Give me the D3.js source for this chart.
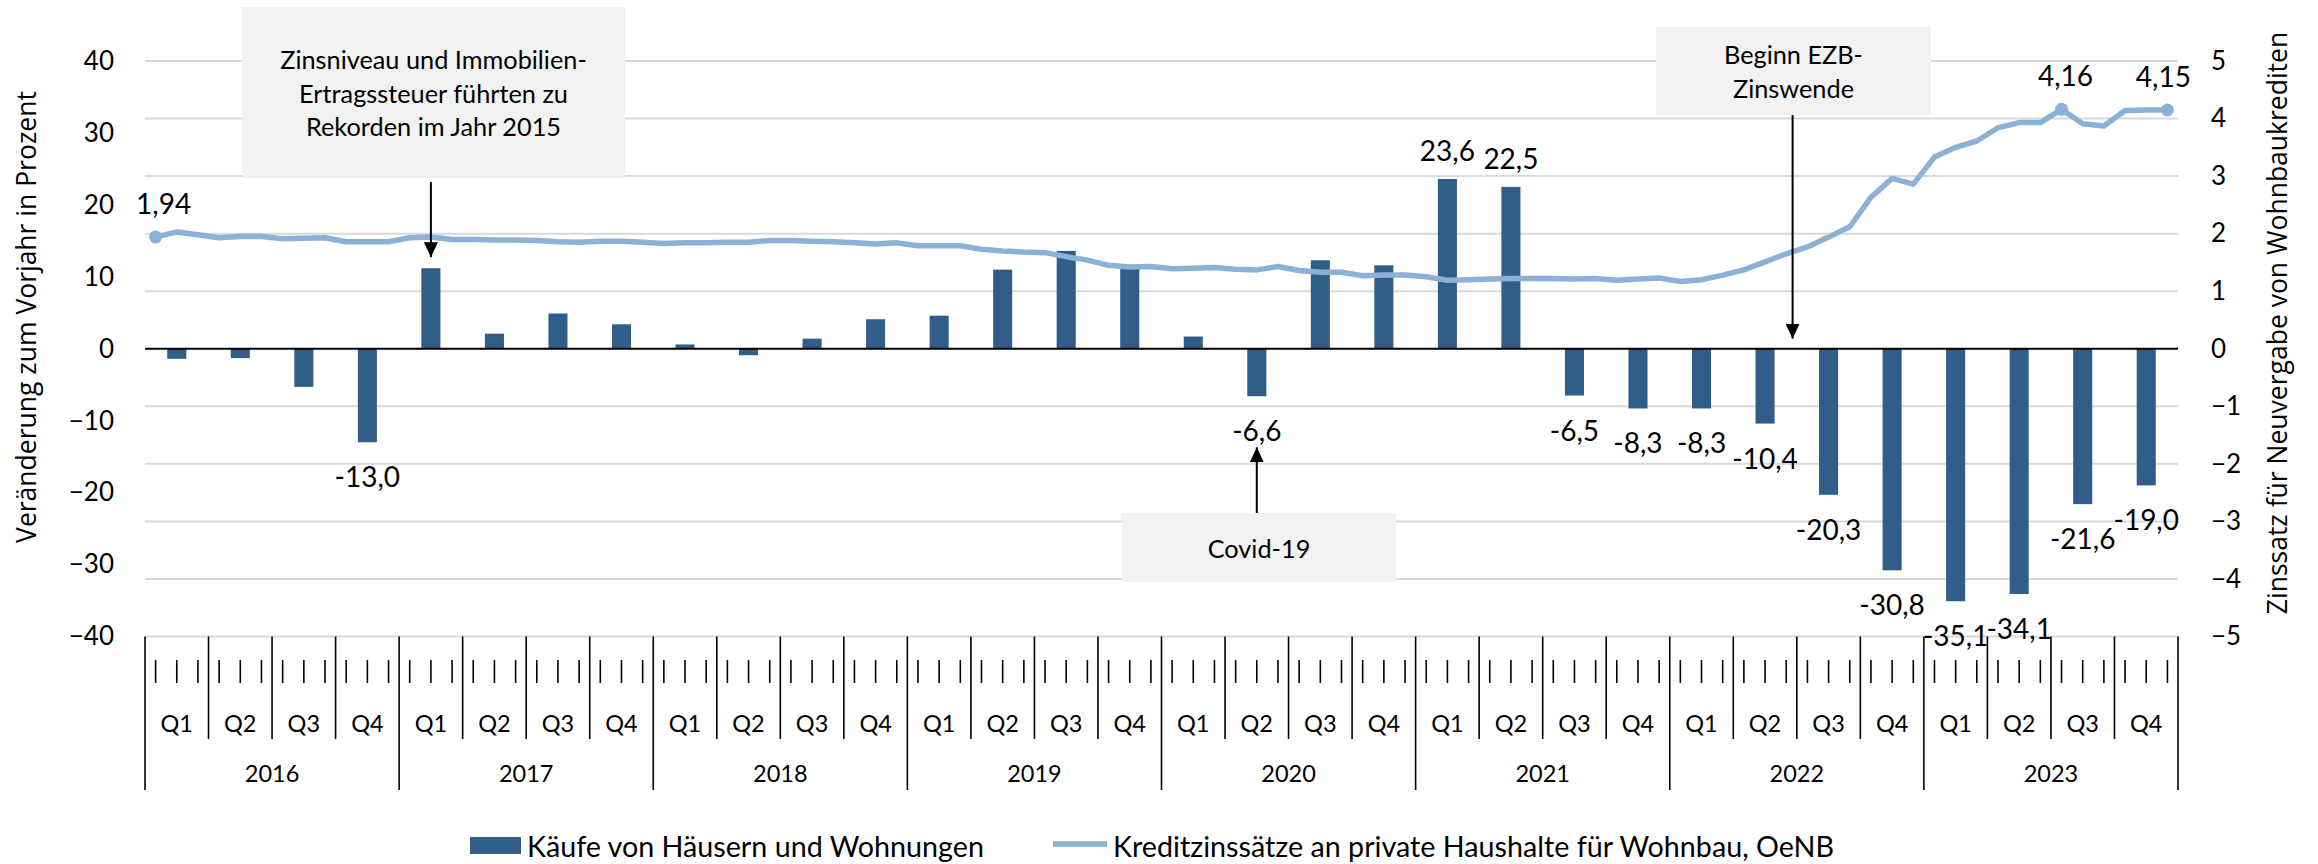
<!DOCTYPE html>
<html lang="de">
<head>
<meta charset="utf-8">
<title>Immobilienkäufe und Wohnbauzinsen</title>
<script src="https://cdn.jsdelivr.net/npm/d3@7"></script>
<style>
  body { margin: 0; background: #fff; }
  svg { display: block; }
</style>
</head>
<body>
<div id="chart"></div>
<script>
// Kategorien
const years = ["2016", "2017", "2018", "2019", "2020", "2021", "2022", "2023"];
const quarterNames = ["Q1", "Q2", "Q3", "Q4"];

// Käufe von Häusern und Wohnungen, Veränderung zum Vorjahr in % (quartalsweise)
const purchases = [
  -1.4, -1.3, -5.3, -13.0,
  11.2, 2.1, 4.9, 3.4,
  0.6, -0.9, 1.4, 4.1,
  4.6, 11.0, 13.6, 11.3,
  1.7, -6.6, 12.3, 11.6,
  23.6, 22.5, -6.5, -8.3,
  -8.3, -10.4, -20.3, -30.8,
  -35.1, -34.1, -21.6, -19.0
];
// Quartale (Index) mit Datenbeschriftung
const labelledBars = [3, 17, 20, 21, 22, 23, 24, 25, 26, 27, 28, 29, 30, 31];

// Kreditzinssätze Wohnbau, OeNB (monatlich, in %)
const rates = [
  1.94, 2.03, 1.98, 1.93, 1.95, 1.95, 1.91, 1.92, 1.93, 1.86, 1.86, 1.86,
  1.93, 1.94, 1.90, 1.90, 1.89, 1.89, 1.88, 1.86, 1.85, 1.87, 1.87, 1.85,
  1.83, 1.84, 1.84, 1.85, 1.85, 1.88, 1.88, 1.87, 1.86, 1.84, 1.82, 1.84,
  1.79, 1.79, 1.79, 1.73, 1.70, 1.68, 1.67, 1.60, 1.54, 1.45, 1.42, 1.43,
  1.39, 1.40, 1.41, 1.38, 1.37, 1.43, 1.36, 1.33, 1.33, 1.27, 1.28, 1.28,
  1.25, 1.19, 1.20, 1.21, 1.22, 1.22, 1.22, 1.21, 1.22, 1.19, 1.21, 1.23,
  1.17, 1.20, 1.28, 1.37, 1.51, 1.65, 1.77, 1.94, 2.12, 2.63, 2.96, 2.86,
  3.33, 3.50, 3.61, 3.84, 3.93, 3.93, 4.16, 3.91, 3.87, 4.14, 4.15, 4.15
];
// Monate (Index) mit Markierung und Beschriftung
const labelledRates = [0, 90, 95];

const leftTicks = [-40, -30, -20, -10, 0, 10, 20, 30, 40];
const rightTicks = [-5, -4, -3, -2, -1, 0, 1, 2, 3, 4, 5];

const leftTitle = "Veränderung zum Vorjahr in Prozent";
const rightTitle = "Zinssatz für Neuvergabe von Wohnbaukrediten";
const legendBars = "Käufe von Häusern und Wohnungen";
const legendLine = "Kreditzinssätze an private Haushalte für Wohnbau, OeNB";

const noteRecord = ["Zinsniveau und Immobilien-", "Ertragssteuer führten zu", "Rekorden im Jahr 2015"];
const noteEcb = ["Beginn EZB-", "Zinswende"];
const noteCovid = ["Covid-19"];

// ---------------------------------------------------------------
const width = 2318;
const height = 864;
const plot = { left: 145, right: 2178, top: 61, bottom: 636.5 };

const barColor = "#305e89";
const lineColor = "#8cb1d7";
const gridColor = "#d9d9d9";
const boxColor = "#f2f2f2";
const font = "Lato, 'Noto Sans', sans-serif";
const titleFont = "'Open Sans', 'Noto Sans', sans-serif";

const de = d3.formatLocale({ decimal: ",", thousands: ".", grouping: [3], currency: ["", " €"], minus: "-" });
const fmt1 = de.format(".1f");
const fmt2 = de.format(".2f");

const quarters = years.flatMap(y => quarterNames.map(q => `${y}-${q}`));
const months = d3.range(rates.length);

const x = d3.scaleBand()
  .domain(quarters)
  .range([plot.left, plot.right])
  .paddingInner(0.7)
  .paddingOuter(0.35);

const xm = d3.scaleBand()
  .domain(months)
  .range([plot.left, plot.right]);

const yL = d3.scaleLinear().domain([-40, 40]).range([plot.bottom, plot.top]);
const yR = d3.scaleLinear().domain([-5, 5]).range([plot.bottom, plot.top]);

const qCenter = i => x(quarters[i]) + x.bandwidth() / 2;
const mCenter = i => xm(i) + xm.bandwidth() / 2;

const svg = d3.select("#chart")
  .append("svg")
  .attr("width", width)
  .attr("height", height)
  .attr("viewBox", `0 0 ${width} ${height}`)
  .style("font-family", font);

svg.append("rect").attr("width", width).attr("height", height).attr("fill", "#fff");

// Gitterlinien (an der Sekundärachse)
svg.append("g")
  .selectAll("line")
  .data(rightTicks.filter(d => d !== 0))
  .join("line")
  .attr("x1", plot.left)
  .attr("x2", plot.right)
  .attr("y1", d => yR(d))
  .attr("y2", d => yR(d))
  .attr("stroke", gridColor)
  .attr("stroke-width", 2);

// Balken
svg.append("g")
  .selectAll("rect")
  .data(purchases)
  .join("rect")
  .attr("x", (d, i) => x(quarters[i]))
  .attr("width", x.bandwidth())
  .attr("y", d => yL(Math.max(0, d)))
  .attr("height", d => Math.abs(yL(d) - yL(0)))
  .attr("fill", barColor);

// Nulllinie
svg.append("line")
  .attr("x1", plot.left)
  .attr("x2", plot.right)
  .attr("y1", yL(0))
  .attr("y2", yL(0))
  .attr("stroke", "#000")
  .attr("stroke-width", 2);

// Zinslinie
const line = d3.line()
  .x((d, i) => mCenter(i))
  .y(d => yR(d));

svg.append("path")
  .datum(rates)
  .attr("d", line)
  .attr("fill", "none")
  .attr("stroke", lineColor)
  .attr("stroke-width", 5.5)
  .attr("stroke-linejoin", "round");

svg.append("g")
  .selectAll("circle")
  .data(labelledRates)
  .join("circle")
  .attr("cx", i => mCenter(i))
  .attr("cy", i => yR(rates[i]))
  .attr("r", 6.5)
  .attr("fill", lineColor);

svg.append("g")
  .selectAll("text")
  .data(labelledRates)
  .join("text")
  .attr("x", i => mCenter(i) + (i === 0 ? 8 : i === rates.length - 1 ? -4 : 4))
  .attr("y", i => yR(rates[i]) - 34)
  .attr("text-anchor", "middle")
  .attr("dominant-baseline", "central")
  .attr("font-size", 28)
  .attr("fill", "#000")
  .text(i => fmt2(rates[i]));

// Balkenbeschriftungen
svg.append("g")
  .selectAll("text")
  .data(labelledBars)
  .join("text")
  .attr("x", i => qCenter(i))
  .attr("y", i => purchases[i] >= 0 ? yL(purchases[i]) - 29 : yL(purchases[i]) + 34)
  .attr("text-anchor", "middle")
  .attr("dominant-baseline", "central")
  .attr("font-size", 28)
  .attr("fill", "#000")
  .text(i => fmt1(purchases[i]));

// Y-Achsen
svg.append("g")
  .attr("transform", `translate(${plot.left},0)`)
  .call(d3.axisLeft(yL).tickValues(leftTicks).tickSize(0).tickPadding(31))
  .call(g => g.select(".domain").remove())
  .attr("font-family", font)
  .attr("font-size", 26)
  .selectAll("text").attr("fill", "#000");

svg.append("g")
  .attr("transform", `translate(${plot.right},0)`)
  .call(d3.axisRight(yR).tickValues(rightTicks).tickSize(0).tickPadding(33))
  .call(g => g.select(".domain").remove())
  .attr("font-family", font)
  .attr("font-size", 26)
  .selectAll("text").attr("fill", "#000");

svg.append("text")
  .attr("transform", "translate(36,317) rotate(-90)")
  .attr("text-anchor", "middle")
  .attr("font-family", titleFont)
  .attr("font-size", 26.5)
  .attr("fill", "#000")
  .text(leftTitle);

svg.append("text")
  .attr("transform", "translate(2287,323) rotate(-90)")
  .attr("text-anchor", "middle")
  .attr("font-family", titleFont)
  .attr("font-size", 26.5)
  .attr("fill", "#000")
  .text(rightTitle);

// X-Achse: Monate, Quartale, Jahre
const axisX = svg.append("g").attr("stroke", "#000");

axisX.selectAll("line.month")
  .data(months)
  .join("line")
  .attr("class", "month")
  .attr("x1", i => mCenter(i))
  .attr("x2", i => mCenter(i))
  .attr("y1", 660)
  .attr("y2", 683)
  .attr("stroke-width", 1.6);

const qStep = x.step();
axisX.selectAll("line.sep")
  .data(d3.range(quarters.length + 1))
  .join("line")
  .attr("class", "sep")
  .attr("x1", k => plot.left + k * qStep)
  .attr("x2", k => plot.left + k * qStep)
  .attr("y1", plot.bottom)
  .attr("y2", k => k % 4 === 0 ? 790 : 739)
  .attr("stroke-width", 1.6);

svg.append("g")
  .selectAll("text")
  .data(quarters)
  .join("text")
  .attr("x", (d, i) => qCenter(i))
  .attr("y", 723)
  .attr("text-anchor", "middle")
  .attr("dominant-baseline", "central")
  .attr("font-size", 23.5)
  .attr("fill", "#000")
  .text(d => d.split("-")[1]);

svg.append("g")
  .selectAll("text")
  .data(years)
  .join("text")
  .attr("x", (d, i) => plot.left + (i * 4 + 2) * qStep)
  .attr("y", 773)
  .attr("text-anchor", "middle")
  .attr("dominant-baseline", "central")
  .attr("font-size", 23.5)
  .attr("fill", "#000")
  .text(d => d);

// Legende
const legend = svg.append("g").attr("font-size", 28.7).attr("fill", "#000");
legend.append("rect")
  .attr("x", 470).attr("y", 837).attr("width", 51).attr("height", 17)
  .attr("fill", barColor);
legend.append("text")
  .attr("x", 527).attr("y", 846)
  .attr("dominant-baseline", "central")
  .text(legendBars);
legend.append("line")
  .attr("x1", 1053).attr("x2", 1107).attr("y1", 844).attr("y2", 844)
  .attr("stroke", lineColor).attr("stroke-width", 5.5);
legend.append("text")
  .attr("x", 1113).attr("y", 846)
  .attr("dominant-baseline", "central")
  .text(legendLine);

// Anmerkungen mit Pfeilen
const defs = svg.append("defs");
defs.append("marker")
  .attr("id", "arrow")
  .attr("markerUnits", "userSpaceOnUse")
  .attr("viewBox", "0 0 15 14")
  .attr("refX", 15)
  .attr("refY", 7)
  .attr("markerWidth", 15)
  .attr("markerHeight", 14)
  .attr("orient", "auto")
  .append("path")
  .attr("d", "M0,0 L15,7 L0,14 Z")
  .attr("fill", "#000");

function note(lines, box, lineGap, arrow) {
  const g = svg.append("g");
  g.append("rect")
    .attr("x", box.x).attr("y", box.y)
    .attr("width", box.w).attr("height", box.h)
    .attr("fill", boxColor);
  const cx = box.x + box.w / 2;
  const cy = box.y + box.h / 2;
  g.selectAll("text")
    .data(lines)
    .join("text")
    .attr("x", cx)
    .attr("y", (d, i) => cy + (i - (lines.length - 1) / 2) * lineGap)
    .attr("text-anchor", "middle")
    .attr("dominant-baseline", "central")
    .attr("font-size", 25.3)
    .attr("fill", "#000")
    .text(d => d);
  g.append("line")
    .attr("x1", arrow.x).attr("x2", arrow.x)
    .attr("y1", arrow.from).attr("y2", arrow.to)
    .attr("stroke", "#000")
    .attr("stroke-width", 2)
    .attr("marker-end", "url(#arrow)");
}

note(noteRecord, { x: 242, y: 7, w: 383, h: 171 }, 33.5,
  { x: qCenter(4), from: 182, to: yL(purchases[4]) - 11 });
note(noteEcb, { x: 1656, y: 27, w: 275, h: 88 }, 34,
  { x: plot.left + 77.8 * xm.step(), from: 115, to: yL(0) - 10 });
note(noteCovid, { x: 1122, y: 513, w: 274, h: 69 }, 0,
  { x: qCenter(17), from: 513, to: yL(purchases[17]) + 51 });
</script>
</body>
</html>
